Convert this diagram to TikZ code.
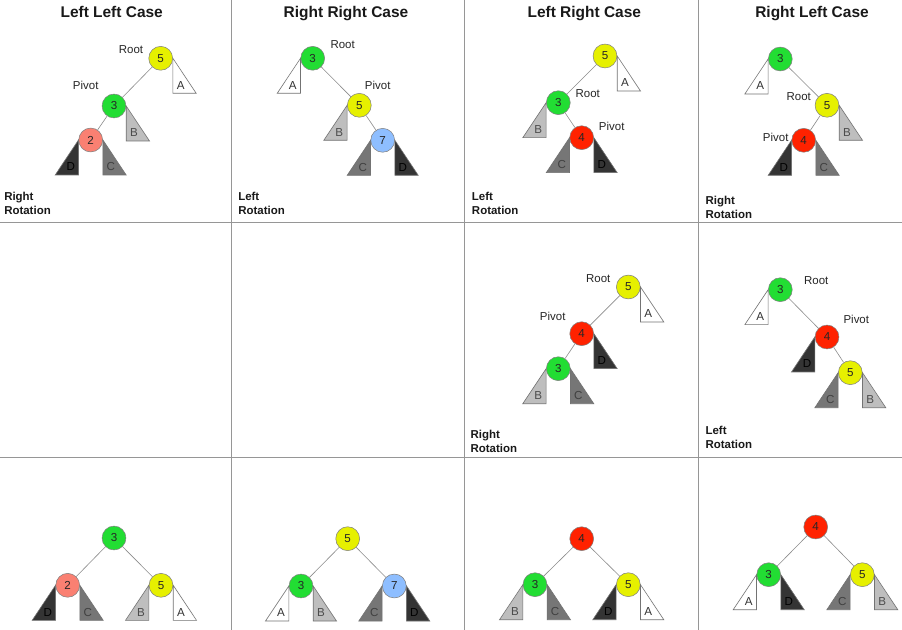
\documentclass[tikz,border=0pt]{standalone}
\usepackage{fontspec}
\setmainfont{Liberation Sans}
\definecolor{nyellow}{RGB}{230,240,0}
\definecolor{ngreen}{RGB}{34,221,51}
\definecolor{nsalmon}{RGB}{250,128,114}
\definecolor{nred}{RGB}{255,34,0}
\definecolor{nblue}{RGB}{142,190,255}
\definecolor{tlight}{RGB}{190,190,190}
\definecolor{tmed}{RGB}{118,118,118}
\definecolor{tdark}{RGB}{52,52,52}
\definecolor{gridc}{RGB}{150,150,150}
\tikzset{
  tnode/.style={circle,inner sep=0pt,minimum size=17.9pt,draw=black!50,line width=0.4pt,
     font=\fontsize{8.7}{9}\selectfont,text=black!85},
  edge/.style={draw=black!45,line width=0.45pt},
  tri/.style={draw=black!55,line width=0.45pt},
  trilab/.style={font=\fontsize{8.7}{9}\selectfont,inner sep=0pt},
  rlab/.style={font=\fontsize{8.6}{10}\selectfont,text=black!85,inner sep=0pt},
  title/.style={font=\bfseries\fontsize{11.6}{13}\selectfont,text=black!90,inner sep=0pt,anchor=base},
  rot/.style={font=\bfseries\fontsize{8.6}{10.5}\selectfont,align=left,anchor=west,inner sep=0pt,text=black!90},
  gridline/.style={draw=gridc,line width=0.6pt}
}
% right subtree of node #1: fill #2, letter #3, letter colour #4
\newcommand{\SubR}[4]{%
  \draw[tri,fill=#2] (#1.east) -- ++(0,35) -- ++(23.3,0) -- cycle;
  \node[trilab,text=#4] (#1#3) at ([shift={(7.8,27)}]#1.east) {#3};}
\newcommand{\SubL}[4]{%
  \draw[tri,fill=#2] (#1.west) -- ++(0,35) -- ++(-23.3,0) -- cycle;
  \node[trilab,text=#4] (#1#3) at ([shift={(-7.8,27)}]#1.west) {#3};}
\begin{document}
\begin{tikzpicture}[x=0.75pt,y=-0.75pt]
\useasboundingbox (0,0) rectangle (902,630);
\fill[white] (0,0) rectangle (902,630);
% grid
\draw[gridline] (231,0) -- (231,630);
\draw[gridline] (464,0) -- (464,630);
\draw[gridline] (698,0) -- (698,630);
\draw[gridline] (0,222.5) -- (902,222.5);
\draw[gridline] (0,457.5) -- (902,457.5);
% titles
\node[title] (t1) at (111.7,17.3) {Left Left Case};
\node[title] (t2) at (346,17.3) {Right Right Case};
\node[title] (t3) at (584.3,17.3) {Left Right Case};
\node[title] (t4) at (812,17.3) {Right Left Case};
% rotation labels
\node[rot] (r1) at (4,203.7) {Right\\Rotation};
\node[rot] (r2) at (238,203.7) {Left\\Rotation};
\node[rot] (r3) at (471.7,203.7) {Left\\Rotation};
\node[rot] (r4) at (705.3,207.3) {Right\\Rotation};
\node[rot] (r5) at (470.3,441) {Right\\Rotation};
\node[rot] (r6) at (705.3,437.7) {Left\\Rotation};

% ---------- Panel 1 ----------
\node[tnode,fill=nyellow] (a1) at (160.7,58.3) {5};
\node[tnode,fill=ngreen] (b1) at (114,106) {3};
\node[tnode,fill=nsalmon] (c1) at (90.7,140) {2};
\draw[edge] (a1) -- (b1); \draw[edge] (b1) -- (c1);
\SubR{a1}{white}{A}{black!80}
\SubR{b1}{tlight}{B}{black!70}
\SubL{c1}{tdark}{D}{black}
\SubR{c1}{tmed}{C}{black!75}
\node[rlab] (root1) at (131,49.3) {Root};
\node[rlab] (piv1) at (85.7,85) {Pivot};

% ---------- Panel 2 ----------
\node[tnode,fill=ngreen] (a2) at (312.7,58.3) {3};
\node[tnode,fill=nyellow] (b2) at (359.3,105.3) {5};
\node[tnode,fill=nblue] (c2) at (382.7,140.3) {7};
\draw[edge] (a2) -- (b2); \draw[edge] (b2) -- (c2);
\SubL{a2}{white}{A}{black!80}
\SubL{b2}{tlight}{B}{black!70}
\SubL{c2}{tmed}{C}{black!75}
\SubR{c2}{tdark}{D}{black}
\node[rlab] (root2) at (342.7,44.3) {Root};
\node[rlab] (piv2) at (377.7,85.3) {Pivot};

% ---------- Panel 3 ----------
\node[tnode,fill=nyellow] (a3) at (605,56) {5};
\node[tnode,fill=ngreen] (b3) at (558.3,102.7) {3};
\node[tnode,fill=nred] (c3) at (581.7,137.7) {4};
\draw[edge] (a3) -- (b3); \draw[edge] (b3) -- (c3);
\SubR{a3}{white}{A}{black!80}
\SubL{b3}{tlight}{B}{black!70}
\SubL{c3}{tmed}{C}{black!75}
\SubR{c3}{tdark}{D}{black}
\node[rlab] (root3) at (587.7,94) {Root};
\node[rlab] (piv3) at (611.7,126.7) {Pivot};

% ---------- Panel 4 ----------
\node[tnode,fill=ngreen] (a4) at (780.3,59) {3};
\node[tnode,fill=nyellow] (b4) at (827,105.3) {5};
\node[tnode,fill=nred] (c4) at (803.7,140.3) {4};
\draw[edge] (a4) -- (b4); \draw[edge] (b4) -- (c4);
\SubL{a4}{white}{A}{black!80}
\SubR{b4}{tlight}{B}{black!70}
\SubL{c4}{tdark}{D}{black}
\SubR{c4}{tmed}{C}{black!75}
\node[rlab] (root4) at (798.7,97) {Root};
\node[rlab] (piv4) at (775.7,137.3) {Pivot};

% ---------- Panel 5 ----------
\node[tnode,fill=nyellow] (a5) at (628.3,287) {5};
\node[tnode,fill=nred] (b5) at (581.7,333.7) {4};
\node[tnode,fill=ngreen] (c5) at (558.3,368.7) {3};
\draw[edge] (a5) -- (b5); \draw[edge] (b5) -- (c5);
\SubR{a5}{white}{A}{black!80}
\SubR{b5}{tdark}{D}{black}
\SubL{c5}{tlight}{B}{black!70}
\SubR{c5}{tmed}{C}{black!75}
\node[rlab] (root5) at (598.3,278.7) {Root};
\node[rlab] (piv5) at (552.7,316.3) {Pivot};

% ---------- Panel 6 ----------
\node[tnode,fill=ngreen] (a6) at (780.3,289.7) {3};
\node[tnode,fill=nred] (b6) at (827,337) {4};
\node[tnode,fill=nyellow] (c6) at (850.3,372.7) {5};
\draw[edge] (a6) -- (b6); \draw[edge] (b6) -- (c6);
\SubL{a6}{white}{A}{black!80}
\SubL{b6}{tdark}{D}{black}
\SubL{c6}{tmed}{C}{black!75}
\SubR{c6}{tlight}{B}{black!70}
\node[rlab] (root6) at (816.3,281) {Root};
\node[rlab] (piv6) at (856.3,319.3) {Pivot};

% ---------- Panel 7 ----------
\node[tnode,fill=ngreen] (a7) at (114,538) {3};
\node[tnode,fill=nsalmon] (b7) at (67.7,585.3) {2};
\node[tnode,fill=nyellow] (c7) at (161,585.3) {5};
\draw[edge] (a7) -- (b7); \draw[edge] (a7) -- (c7);
\SubL{b7}{tdark}{D}{black}
\SubR{b7}{tmed}{C}{black!75}
\SubL{c7}{tlight}{B}{black!70}
\SubR{c7}{white}{A}{black!80}

% ---------- Panel 8 ----------
\node[tnode,fill=nyellow] (a8) at (347.7,538.7) {5};
\node[tnode,fill=ngreen] (b8) at (301,586) {3};
\node[tnode,fill=nblue] (c8) at (394.3,586) {7};
\draw[edge] (a8) -- (b8); \draw[edge] (a8) -- (c8);
\SubL{b8}{white}{A}{black!80}
\SubR{b8}{tlight}{B}{black!70}
\SubL{c8}{tmed}{C}{black!75}
\SubR{c8}{tdark}{D}{black}

% ---------- Panel 9 ----------
\node[tnode,fill=nred] (a9) at (581.7,538.7) {4};
\node[tnode,fill=ngreen] (b9) at (535,584.7) {3};
\node[tnode,fill=nyellow] (c9) at (628.3,584.7) {5};
\draw[edge] (a9) -- (b9); \draw[edge] (a9) -- (c9);
\SubL{b9}{tlight}{B}{black!70}
\SubR{b9}{tmed}{C}{black!75}
\SubL{c9}{tdark}{D}{black}
\SubR{c9}{white}{A}{black!80}

% ---------- Panel 10 ----------
\node[tnode,fill=nred] (a10) at (815.7,527) {4};
\node[tnode,fill=ngreen] (b10) at (768.7,574.7) {3};
\node[tnode,fill=nyellow] (c10) at (862.3,574.7) {5};
\draw[edge] (a10) -- (b10); \draw[edge] (a10) -- (c10);
\SubL{b10}{white}{A}{black!80}
\SubR{b10}{tdark}{D}{black}
\SubL{c10}{tmed}{C}{black!75}
\SubR{c10}{tlight}{B}{black!70}
\end{tikzpicture}
\end{document}
